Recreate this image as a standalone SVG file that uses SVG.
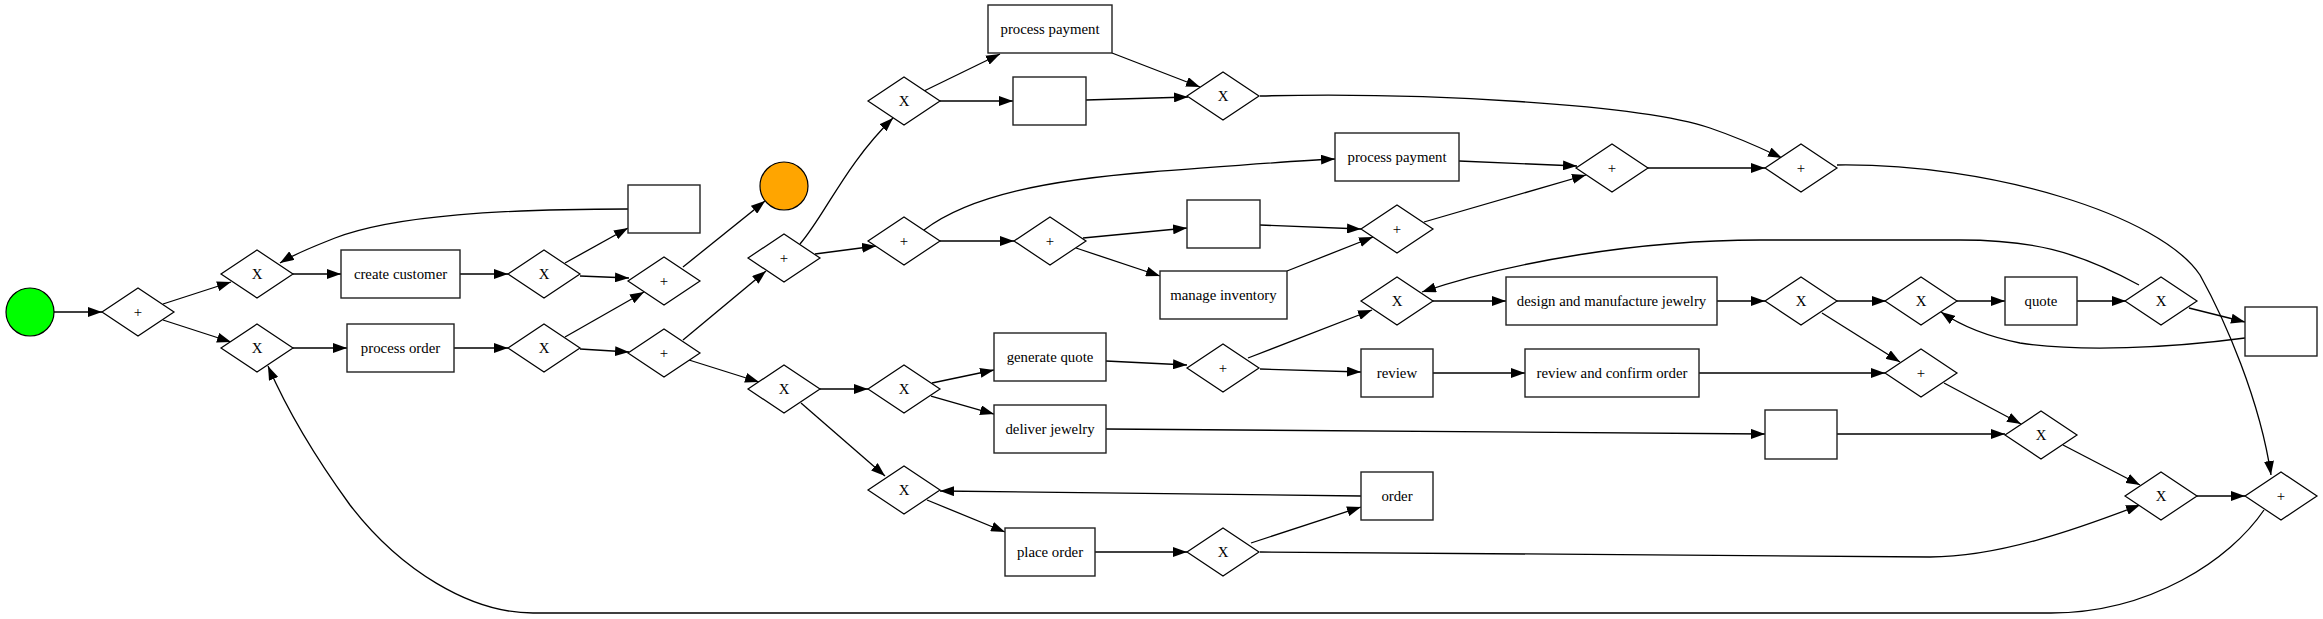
<svg xmlns="http://www.w3.org/2000/svg" xmlns:xlink="http://www.w3.org/1999/xlink" width="2323" height="619" viewBox="0 0 2323 619">
<style>
.dia{fill:#fff;stroke:#000;stroke-width:1.2}
.box{fill:#fff;stroke:#222;stroke-width:1.4}
.lbl{font-family:"Liberation Serif","Times New Roman",serif;font-size:14.8px;text-anchor:middle;fill:#000}
.e{fill:none;stroke:#000;stroke-width:1.3;marker-end:url(#arr)}
</style>
<defs>
<marker id="arr" markerUnits="userSpaceOnUse" viewBox="0 0 14 10" refX="14" refY="5" markerWidth="14" markerHeight="10" orient="auto"><path d="M0,0 L14,5 L0,10 z" fill="#000"/></marker>
<polygon id="dia" points="-36,0 0,-24 36,0 0,24"/>
</defs>
<rect width="2323" height="619" fill="#fff"/>
<g id="connectors">
<path class="e" d="M54,312 L102,312"/>
<path class="e" d="M163,304 L231,282"/>
<path class="e" d="M163,320 L231,342"/>
<path class="e" d="M293,274 L341,274"/>
<path class="e" d="M293,348 L347,348"/>
<path class="e" d="M460,274 L508,274"/>
<path class="e" d="M454,348 L508,348"/>
<path class="e" d="M565,263 L628,228"/>
<path class="e" d="M580,276 L629,278"/>
<path class="e" d="M565,337 L644,292"/>
<path class="e" d="M580,349 L629,352"/>
<path class="e" d="M628,209 C505,209 395,215 335,238 C315,246 296,253 280,263"/>
<path class="e" d="M683,267 L765,201"/>
<path class="e" d="M683,340 L766,271"/>
<path class="e" d="M689,360 L759,382"/>
<path class="e" d="M800,244 C825,215 845,165 893,118"/>
<path class="e" d="M815,254 L876,246"/>
<path class="e" d="M924,91 L1000,54"/>
<path class="e" d="M940,101 L1013,101"/>
<path class="e" d="M1112,53 L1200,87"/>
<path class="e" d="M1086,100 L1188,97"/>
<path class="e" d="M1260,96 C1420,92 1640,104 1710,128 C1745,140 1765,150 1782,158"/>
<path class="e" d="M924,230 C970,195 1050,180 1150,172 C1230,166 1290,161 1335,159"/>
<path class="e" d="M940,241 L1014,241"/>
<path class="e" d="M1083,238 L1187,228"/>
<path class="e" d="M1076,248 L1160,276"/>
<path class="e" d="M1260,225 L1361,229"/>
<path class="e" d="M1287,271 L1373,237"/>
<path class="e" d="M1459,161 L1577,166"/>
<path class="e" d="M1424,222 L1586,175"/>
<path class="e" d="M1647,168 L1765,168"/>
<path class="e" d="M1837,165 C1990,163 2160,215 2200,275 C2225,320 2260,400 2271,475"/>
<path class="e" d="M820,389 L868,389"/>
<path class="e" d="M801,403 L885,476"/>
<path class="e" d="M932,383 L994,370"/>
<path class="e" d="M931,396 L994,414"/>
<path class="e" d="M1106,361 L1187,365"/>
<path class="e" d="M1248,358 L1372,310"/>
<path class="e" d="M1260,369 L1361,372"/>
<path class="e" d="M1433,301 L1506,301"/>
<path class="e" d="M1717,301 L1765,301"/>
<path class="e" d="M1837,301 L1886,301"/>
<path class="e" d="M1822,313 L1900,362"/>
<path class="e" d="M1957,301 L2005,301"/>
<path class="e" d="M2077,301 L2126,301"/>
<path class="e" d="M2139,285 C2075,250 2030,240 1960,240 L1760,240 C1640,240 1510,262 1422,292"/>
<path class="e" d="M2189,308 L2245,322"/>
<path class="e" d="M2245,338 C2170,348 2080,352 2020,343 C1985,336 1960,325 1941,312"/>
<path class="e" d="M1433,373 L1525,373"/>
<path class="e" d="M1699,373 L1885,373"/>
<path class="e" d="M1944,383 L2021,424"/>
<path class="e" d="M1106,429 L1765,434"/>
<path class="e" d="M1837,434 L2005,434"/>
<path class="e" d="M2063,445 L2140,485"/>
<path class="e" d="M927,500 L1005,532"/>
<path class="e" d="M1095,552 L1187,552"/>
<path class="e" d="M1251,543 L1361,507"/>
<path class="e" d="M1361,496 L940,491"/>
<path class="e" d="M1260,552 L1930,557 C2000,557 2080,528 2140,505"/>
<path class="e" d="M2197,496 L2245,496"/>
<path class="e" d="M2264,510 C2230,560 2150,613 2051,613 L533,613 C470,613 400,570 350,505 C310,450 285,405 268,366"/>
</g>
<g id="start"><circle cx="30" cy="312" r="24" fill="#00ff00" stroke="#000" stroke-width="1.2"/></g>
<g id="end"><circle cx="784" cy="186" r="24" fill="#ffa500" stroke="#000" stroke-width="1.2"/></g>
<g id="g1" transform="translate(138,312)"><use xlink:href="#dia" class="dia"/><text class="lbl" y="5">+</text></g>
<g id="g2" transform="translate(257,274)"><use xlink:href="#dia" class="dia"/><text class="lbl" y="5">X</text></g>
<g id="g3" transform="translate(257,348)"><use xlink:href="#dia" class="dia"/><text class="lbl" y="5">X</text></g>
<g id="t_cc"><rect class="box" x="341" y="250" width="119" height="48"/><text class="lbl" x="400.5" y="279">create customer</text></g>
<g id="t_po"><rect class="box" x="347" y="324" width="107" height="48"/><text class="lbl" x="400.5" y="353">process order</text></g>
<g id="g4" transform="translate(544,274)"><use xlink:href="#dia" class="dia"/><text class="lbl" y="5">X</text></g>
<g id="g5" transform="translate(544,348)"><use xlink:href="#dia" class="dia"/><text class="lbl" y="5">X</text></g>
<g id="t_e1"><rect class="box" x="628" y="185" width="72" height="48"/></g>
<g id="g6" transform="translate(664,281)"><use xlink:href="#dia" class="dia"/><text class="lbl" y="5">+</text></g>
<g id="g7" transform="translate(664,353)"><use xlink:href="#dia" class="dia"/><text class="lbl" y="5">+</text></g>
<g id="g8" transform="translate(784,258)"><use xlink:href="#dia" class="dia"/><text class="lbl" y="5">+</text></g>
<g id="g9" transform="translate(784,389)"><use xlink:href="#dia" class="dia"/><text class="lbl" y="5">X</text></g>
<g id="g10" transform="translate(904,101)"><use xlink:href="#dia" class="dia"/><text class="lbl" y="5">X</text></g>
<g id="g11" transform="translate(904,241)"><use xlink:href="#dia" class="dia"/><text class="lbl" y="5">+</text></g>
<g id="g12" transform="translate(904,389)"><use xlink:href="#dia" class="dia"/><text class="lbl" y="5">X</text></g>
<g id="g13" transform="translate(904,490)"><use xlink:href="#dia" class="dia"/><text class="lbl" y="5">X</text></g>
<g id="t_pp1"><rect class="box" x="988" y="5" width="124" height="48"/><text class="lbl" x="1050" y="34">process payment</text></g>
<g id="t_e2"><rect class="box" x="1013" y="77" width="73" height="48"/></g>
<g id="g14" transform="translate(1050,241)"><use xlink:href="#dia" class="dia"/><text class="lbl" y="5">+</text></g>
<g id="t_gq"><rect class="box" x="994" y="333" width="112" height="48"/><text class="lbl" x="1050" y="362">generate quote</text></g>
<g id="t_dj"><rect class="box" x="994" y="405" width="112" height="48"/><text class="lbl" x="1050" y="434">deliver jewelry</text></g>
<g id="t_pl"><rect class="box" x="1005" y="528" width="90" height="48"/><text class="lbl" x="1050" y="557">place order</text></g>
<g id="g15" transform="translate(1223,96)"><use xlink:href="#dia" class="dia"/><text class="lbl" y="5">X</text></g>
<g id="t_e3"><rect class="box" x="1187" y="200" width="73" height="48"/></g>
<g id="t_mi"><rect class="box" x="1160" y="271" width="127" height="48"/><text class="lbl" x="1223.5" y="300">manage inventory</text></g>
<g id="g16" transform="translate(1223,368)"><use xlink:href="#dia" class="dia"/><text class="lbl" y="5">+</text></g>
<g id="g17" transform="translate(1223,552)"><use xlink:href="#dia" class="dia"/><text class="lbl" y="5">X</text></g>
<g id="t_pp2"><rect class="box" x="1335" y="133" width="124" height="48"/><text class="lbl" x="1397" y="162">process payment</text></g>
<g id="g18" transform="translate(1397,229)"><use xlink:href="#dia" class="dia"/><text class="lbl" y="5">+</text></g>
<g id="g19" transform="translate(1397,301)"><use xlink:href="#dia" class="dia"/><text class="lbl" y="5">X</text></g>
<g id="t_rev"><rect class="box" x="1361" y="349" width="72" height="48"/><text class="lbl" x="1397" y="378">review</text></g>
<g id="t_ord"><rect class="box" x="1361" y="472" width="72" height="48"/><text class="lbl" x="1397" y="501">order</text></g>
<g id="t_dmj"><rect class="box" x="1506" y="277" width="211" height="48"/><text class="lbl" x="1611.5" y="306">design and manufacture jewelry</text></g>
<g id="t_rco"><rect class="box" x="1525" y="349" width="174" height="48"/><text class="lbl" x="1612" y="378">review and confirm order</text></g>
<g id="g20" transform="translate(1612,168)"><use xlink:href="#dia" class="dia"/><text class="lbl" y="5">+</text></g>
<g id="g21" transform="translate(1801,168)"><use xlink:href="#dia" class="dia"/><text class="lbl" y="5">+</text></g>
<g id="g22" transform="translate(1801,301)"><use xlink:href="#dia" class="dia"/><text class="lbl" y="5">X</text></g>
<g id="t_e4"><rect class="box" x="1765" y="410" width="72" height="49"/></g>
<g id="g23" transform="translate(1921,301)"><use xlink:href="#dia" class="dia"/><text class="lbl" y="5">X</text></g>
<g id="g24" transform="translate(1921,373)"><use xlink:href="#dia" class="dia"/><text class="lbl" y="5">+</text></g>
<g id="t_quote"><rect class="box" x="2005" y="277" width="72" height="48"/><text class="lbl" x="2041" y="306">quote</text></g>
<g id="g25" transform="translate(2041,435)"><use xlink:href="#dia" class="dia"/><text class="lbl" y="5">X</text></g>
<g id="g26" transform="translate(2161,301)"><use xlink:href="#dia" class="dia"/><text class="lbl" y="5">X</text></g>
<g id="g27" transform="translate(2161,496)"><use xlink:href="#dia" class="dia"/><text class="lbl" y="5">X</text></g>
<g id="t_e5"><rect class="box" x="2245" y="307" width="72" height="49"/></g>
<g id="g28" transform="translate(2281,496)"><use xlink:href="#dia" class="dia"/><text class="lbl" y="5">+</text></g>
</svg>
